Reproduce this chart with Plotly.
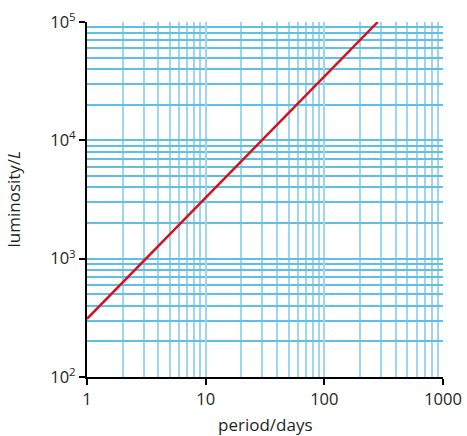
import plotly.graph_objects as go

period_days = [1, 282]
luminosity = [310, 100000]

x_tickvals = [1, 10, 100, 1000]
x_ticktext = ["1", "10", "100", "1000"]
y_tickvals = [100, 1000, 10000, 100000]
y_ticktext = ["10<sup>2</sup>", "10<sup>3</sup>", "10<sup>4</sup>", "10<sup>5</sup>"]

fig = go.Figure()
fig.add_trace(go.Scatter(x=period_days, y=luminosity, mode="lines",
                         line=dict(color="#d2121e", width=2.5), showlegend=False))

family = "Open Sans, Noto Sans, sans-serif"
tickfont = dict(family=family, size=16.5, color="#231f20")

fig.update_xaxes(type="log", range=[0, 3], automargin=False, ticklabeloverflow="allow",
                 tickvals=x_tickvals, ticktext=x_ticktext,
                 showgrid=True, gridcolor="#9dd6ee", gridwidth=2,
                 minor=dict(showgrid=True, gridcolor="#9dd6ee", gridwidth=2, dtick="D1", ticks=""),
                 ticks="outside", ticklen=6, tickwidth=1.5, tickcolor="black",
                 showline=True, linecolor="black", linewidth=2,
                 zeroline=False, tickfont=tickfont)
fig.update_yaxes(type="log", range=[2, 5], automargin=False, ticklabeloverflow="allow",
                 tickvals=y_tickvals, ticktext=y_ticktext,
                 showgrid=True, gridcolor="#5fc0e4", gridwidth=1.5,
                 minor=dict(showgrid=True, gridcolor="#5fc0e4", gridwidth=1.5, dtick="D1", ticks=""),
                 ticks="outside", ticklen=6, tickwidth=1.5, tickcolor="black",
                 showline=True, linecolor="black", linewidth=2,
                 zeroline=False, tickfont=tickfont)

fig.add_annotation(text="period/days", xref="paper", yref="paper", x=0.5, y=0,
                   yshift=-47, showarrow=False, yanchor="middle",
                   font=dict(family=family, size=17, color="#231f20"))
fig.add_annotation(text="luminosity/<i>L</i>", xref="paper", yref="paper", x=0, y=0.5,
                   xshift=-74, showarrow=False, textangle=-90, xanchor="center",
                   font=dict(family=family, size=17, color="#231f20"))

fig.update_layout(width=467, height=436,
                  margin=dict(l=87, r=24, t=22, b=59),
                  plot_bgcolor="white", paper_bgcolor="white")

# remove the page's default body margin so the figure fills the window exactly
fig.write_html("out.html", config={"displayModeBar": False},
               post_script="document.body.style.margin='0px';")
